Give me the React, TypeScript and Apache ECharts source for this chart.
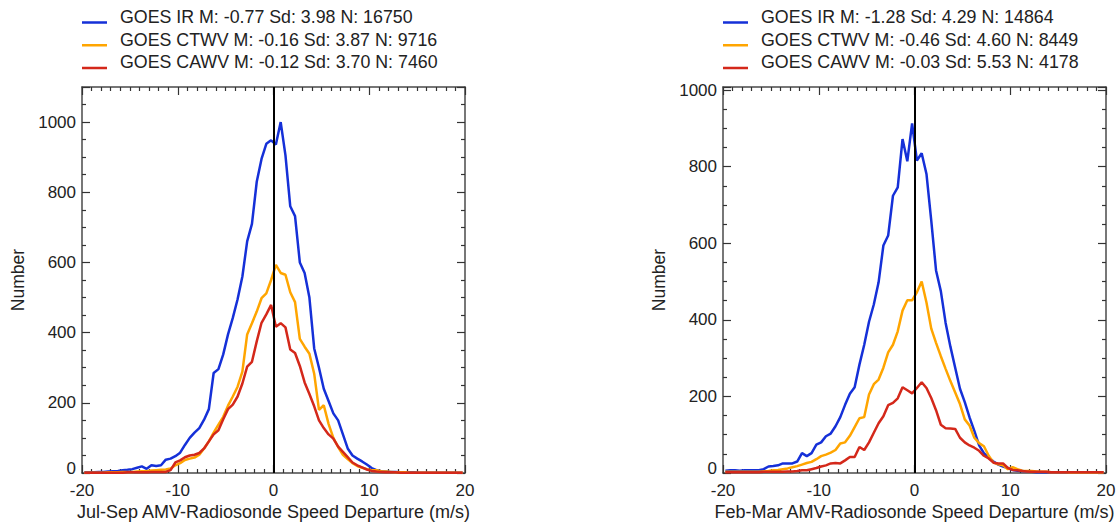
import React, { useEffect, useRef } from "react";
import * as echarts from "echarts";

// Bin centres (m/s), 0.5 m/s bins from -20 to 20
const BINS: number[] = Array.from({ length: 80 }, (_, i) => -19.75 + 0.5 * i);

const X_TICKS = [-20, -10, 0, 10, 20];

// Left panel (Jul-Sep)
const LEFT_NAMES = [
  "GOES IR M: -0.77 Sd: 3.98 N: 16750",
  "GOES CTWV M: -0.16 Sd: 3.87 N: 9716",
  "GOES CAWV M: -0.12 Sd: 3.70 N: 7460",
];
const L_IR = [
  2, 2, 2, 3, 3, 4, 5, 6, 8, 9, 11, 15, 19, 12, 22, 20, 22, 38, 41, 48,
  58, 80, 100, 115, 128, 152, 182, 285, 296, 338, 395, 442, 495, 560, 660, 710, 830, 895, 938, 948,
  936, 1000, 905, 760, 732, 600, 570, 500, 355, 300, 240, 205, 170, 150, 110, 70, 50, 41, 33, 24,
  14, 8, 5, 4, 3, 3, 2, 2, 2, 2, 1, 1, 1, 1, 1, 1, 1, 1, 1, 1,
];
const L_CTWV = [
  1, 1, 1, 1, 1, 2, 2, 2, 3, 3, 3, 4, 5, 5, 7, 8, 9, 10, 13, 22,
  28, 37, 41, 44, 52, 70, 90, 115, 138, 160, 192, 218, 246, 289, 395, 427, 460, 498, 512, 550,
  593, 570, 565, 515, 487, 382, 360, 340, 283, 180, 193, 140, 100, 74, 52, 40, 28, 20, 15, 11,
  8, 8, 5, 4, 3, 2, 2, 2, 1, 1, 1, 1, 1, 1, 1, 1, 1, 1, 1, 1,
];
const L_CAWV = [
  1, 1, 1, 1, 1, 1, 1, 1, 1, 2, 2, 2, 2, 2, 3, 3, 3, 3, 8, 30,
  36, 45, 50, 52, 57, 70, 90, 110, 122, 153, 182, 195, 218, 255, 303, 317, 375, 428, 452, 479,
  417, 427, 415, 352, 342, 305, 258, 225, 190, 150, 128, 110, 98, 75, 60, 45, 30, 22, 16, 10,
  6, 4, 3, 2, 2, 2, 1, 1, 1, 1, 1, 1, 1, 1, 1, 1, 1, 1, 1, 1,
];

// Right panel (Feb-Mar)
const RIGHT_NAMES = [
  "GOES IR M: -1.28 Sd: 4.29 N: 14864",
  "GOES CTWV M: -0.46 Sd: 4.60 N: 8449",
  "GOES CAWV M: -0.03 Sd: 5.53 N: 4178",
];
const R_IR = [
  6, 7, 7, 6, 7, 7, 7, 7, 10, 17, 18, 20, 25, 25, 25, 30, 52, 44, 52, 74,
  80, 96, 103, 122, 146, 178, 207, 224, 283, 335, 395, 440, 498, 594, 620, 724, 746, 872, 814, 913,
  816, 835, 781, 659, 529, 475, 392, 330, 275, 220, 185, 145, 110, 72, 52, 40, 30, 22, 17, 13,
  8, 6, 5, 4, 3, 2, 2, 2, 1, 1, 1, 1, 1, 1, 1, 1, 1, 1, 1, 1,
];
const R_CTWV = [
  3, 3, 3, 3, 3, 3, 3, 3, 4, 5, 7, 8, 10, 12, 15, 18, 22, 26, 29, 36,
  44, 48, 53, 60, 77, 80, 97, 120, 143, 146, 205, 232, 244, 275, 315, 335, 370, 424, 451, 451,
  472, 500, 445, 377, 340, 305, 272, 240, 210, 180, 140, 124, 92, 78, 70, 45, 27, 23, 20, 10,
  15, 10, 6, 5, 5, 4, 3, 3, 2, 2, 2, 2, 1, 1, 1, 1, 1, 1, 1, 1,
];
const R_CAWV = [
  2, 2, 2, 2, 2, 2, 2, 2, 3, 3, 3, 3, 3, 4, 4, 5, 7, 7, 10, 13,
  17, 20, 25, 26, 25, 33, 42, 42, 68, 60, 80, 105, 130, 148, 177, 183, 195, 224, 216, 208,
  222, 237, 222, 196, 164, 126, 117, 116, 115, 92, 80, 72, 66, 58, 45, 38, 27, 25, 25, 13,
  8, 7, 5, 4, 3, 3, 3, 3, 2, 2, 2, 2, 2, 2, 2, 2, 2, 2, 2, 2,
];

const COLORS = ["#1530d8", "#ffa500", "#d4281a"];
const FONT = "'Liberation Sans', Arial, Helvetica, sans-serif";
const AXIS_COLOR = "#4a4a4a";
const TICK_COLOR = "#333";
const TEXT_COLOR = "#222";

const LEGEND_ICON = "path://M0,0 L25,0 M0,11 L25,11 L25,13.5 L0,13.5 Z";

function xAxisDef(gridIndex: number, top: boolean, name: string) {
  return {
    type: "value",
    gridIndex,
    position: top ? "top" : "bottom",
    min: X_TICKS[0],
    max: X_TICKS[X_TICKS.length - 1],
    interval: 10,
    name: top ? "" : name,
    nameLocation: "middle",
    nameGap: 27,
    nameTextStyle: { fontFamily: FONT, fontSize: 18, color: TEXT_COLOR },
    axisLine: { show: true, onZero: false, lineStyle: { color: AXIS_COLOR, width: 1.5 } },
    axisTick: { show: true, inside: true, length: 8, lineStyle: { color: TICK_COLOR, width: 1.2 } },
    minorTick: { show: true, splitNumber: 10, length: 4, lineStyle: { color: TICK_COLOR, width: 1.2 } },
    axisLabel: {
      show: !top,
      margin: 8.5,
      fontFamily: FONT,
      fontSize: 17,
      color: TEXT_COLOR,
      formatter: (v: number) => String(v),
    },
    splitLine: { show: false },
    minorSplitLine: { show: false },
  };
}

function yAxisDef(gridIndex: number, right: boolean, max: number) {
  return {
    type: "value",
    gridIndex,
    position: right ? "right" : "left",
    min: 0,
    max,
    interval: 200,
    name: right ? "" : "Number",
    nameLocation: "middle",
    nameGap: 55,
    nameTextStyle: { fontFamily: FONT, fontSize: 17.5, color: TEXT_COLOR },
    axisLine: { show: true, onZero: false, lineStyle: { color: AXIS_COLOR, width: 1.5 } },
    axisTick: { show: true, inside: true, length: 8, lineStyle: { color: TICK_COLOR, width: 1.2 } },
    minorTick: { show: true, splitNumber: 4, length: 4, lineStyle: { color: TICK_COLOR, width: 1.2 } },
    axisLabel: {
      show: !right,
      showMaxLabel: false,
      margin: 6,
      fontFamily: FONT,
      fontSize: 17,
      color: TEXT_COLOR,
      formatter: (v: number) => (v === 0 ? "{z|0}" : String(v)),
      rich: {
        z: { fontFamily: FONT, fontSize: 17, color: TEXT_COLOR, padding: [0, 0, 9, 0] },
      },
    },
    splitLine: { show: false },
    minorSplitLine: { show: false },
  };
}

function lineSeries(name: string, values: number[], color: string, axisIdx: number, withZero: boolean) {
  const s: any = {
    type: "line",
    name,
    xAxisIndex: axisIdx,
    yAxisIndex: axisIdx,
    data: BINS.map((x, i) => [x, values[i]]),
    symbol: "none",
    lineStyle: { color, width: 2.5 },
    itemStyle: { color },
    z: 3,
  };
  if (withZero) {
    s.markLine = {
      silent: true,
      symbol: "none",
      label: { show: false },
      lineStyle: { color: "#000", width: 2, type: "solid" },
      data: [{ xAxis: 0 }],
      z: 5,
    };
  }
  return s;
}

function legendDef(left: number, names: string[]) {
  return {
    left,
    top: 8,
    orient: "vertical",
    padding: 0,
    itemWidth: 25,
    itemHeight: 14,
    itemGap: 4.7,
    icon: LEGEND_ICON,
    selectedMode: false,
    itemStyle: { borderWidth: 0 },
    textStyle: { fontFamily: FONT, fontSize: 17.8, color: TEXT_COLOR, padding: [0, 0, 0, 8] },
    data: names,
  };
}

export default function App() {
  const ref = useRef<HTMLDivElement>(null);
  useEffect(() => {
    if (!ref.current) return;
    const chart = echarts.init(ref.current, null, { renderer: "svg" });
    const option: any = {
      animation: false,
      backgroundColor: "#fff",
      legend: [legendDef(82, LEFT_NAMES), legendDef(723, RIGHT_NAMES)],
      grid: [
        { left: 82, top: 87, width: 383, height: 386, outerBoundsMode: "none", containLabel: false },
        { left: 723, top: 87, width: 383, height: 386, outerBoundsMode: "none", containLabel: false },
      ],
      xAxis: [
        xAxisDef(0, false, "Jul-Sep AMV-Radiosonde Speed Departure (m/s)"),
        xAxisDef(0, true, ""),
        xAxisDef(1, false, "Feb-Mar AMV-Radiosonde Speed Departure (m/s)"),
        xAxisDef(1, true, ""),
      ],
      yAxis: [
        yAxisDef(0, false, 1100),
        yAxisDef(0, true, 1100),
        yAxisDef(1, false, 1008),
        yAxisDef(1, true, 1008),
      ],
      series: [
        lineSeries(LEFT_NAMES[0], L_IR, COLORS[0], 0, true),
        lineSeries(LEFT_NAMES[1], L_CTWV, COLORS[1], 0, false),
        lineSeries(LEFT_NAMES[2], L_CAWV, COLORS[2], 0, false),
        lineSeries(RIGHT_NAMES[0], R_IR, COLORS[0], 2, true),
        lineSeries(RIGHT_NAMES[1], R_CTWV, COLORS[1], 2, false),
        lineSeries(RIGHT_NAMES[2], R_CAWV, COLORS[2], 2, false),
      ],
    };
    chart.setOption(option);
    return () => chart.dispose();
  }, []);
  return (
    <div
      ref={ref}
      style={{ position: "fixed", left: 0, top: 0, width: 1117, height: 522 }}
    />
  );
}
